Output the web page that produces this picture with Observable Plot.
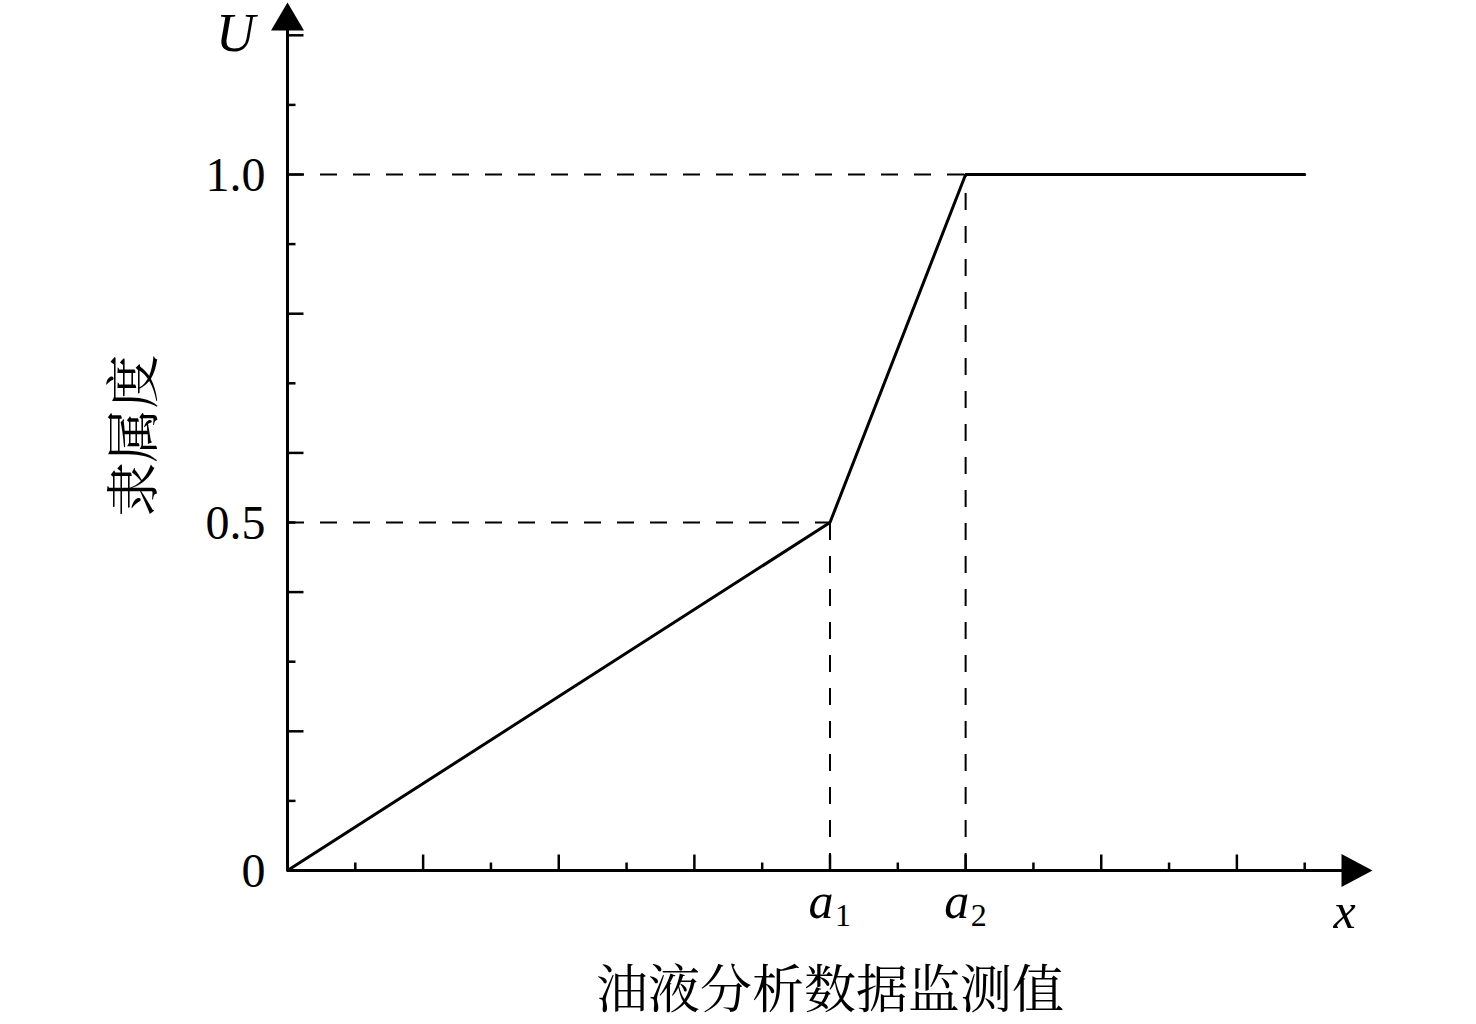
<!DOCTYPE html>
<html>
<head>
<meta charset="utf-8">
<script src="https://cdn.jsdelivr.net/npm/d3@7"></script>
<script src="https://cdn.jsdelivr.net/npm/@observablehq/plot@0.6"></script>
<style>
  html, body { margin: 0; padding: 0; background: #fff; }
  #chart svg { display: block; }
</style>
</head>
<body>
<div id="chart"></div>
<script>
// ---- data ----
const xValues = [0, 8, 10, 15];          // x in tick units
const uValues = [0, 0.5, 1.0, 1.0];      // membership degree
const breakX = [8, 10];                   // a1, a2
const breakU = [0.5, 1.0];
const breakBase = ["a", "a"];
const breakSub = ["1", "2"];
const yTickValues = [0, 0.5, 1.0];
const yTickLabels = ["0", "0.5", "1.0"];
const xMajorTicks = [2, 4, 6, 8, 10, 12, 14];
const xMinorTicks = [1, 3, 5, 7, 9, 11, 13, 15];
const yMajorTicks = [0.2, 0.4, 0.6, 0.8, 1.0, 1.2];
const yMinorTicks = [0.1, 0.3, 0.5, 0.7, 0.9, 1.1];
const xTitle = "油液分析数据监测值";
const yTitle = "隶属度";
const xAxisName = "x";
const yAxisName = "U";

const curve = xValues.map((x, i) => ({x, u: uValues[i]}));
const guides = breakX.map((x, i) => ({x, u: breakU[i], base: breakBase[i], sub: breakSub[i]}));
const yLabels = yTickValues.map((v, i) => ({v, label: yTickLabels[i]}));

const serif = "'Liberation Serif', 'Times New Roman', 'DejaVu Serif', serif";
const cjk = "'Noto Serif CJK SC', 'Noto Sans CJK SC', serif";

// custom symbols
const tickUp = {draw(ctx, size) { const r = Math.sqrt(size / Math.PI); ctx.moveTo(0, 0); ctx.lineTo(0, -r); }};
const tickRight = {draw(ctx, size) { const r = Math.sqrt(size / Math.PI); ctx.moveTo(0, 0); ctx.lineTo(r, 0); }};
const arrowUp = {draw(ctx, size) { const h = Math.sqrt(size / Math.PI); const w = h * 33 / 28;
  ctx.moveTo(0, 0); ctx.lineTo(-w / 2, h); ctx.lineTo(w / 2, h); ctx.closePath(); }};
const arrowRight = {draw(ctx, size) { const h = Math.sqrt(size / Math.PI); const w = h * 33 / 31;
  ctx.moveTo(0, 0); ctx.lineTo(-h, -w / 2); ctx.lineTo(-h, w / 2); ctx.closePath(); }};

const chart = Plot.plot({
  width: 1476,
  height: 1024,
  marginLeft: 287,
  marginRight: 104,
  marginTop: 0,
  marginBottom: 154,
  style: {background: "#fff", overflow: "visible"},
  x: {domain: [0, 16], axis: null},
  y: {domain: [0, 1.25], axis: null},
  marks: [
    // dashed guides
    Plot.ruleY(guides, {y: "u", x1: 0, x2: "x", stroke: "#000", strokeWidth: 2, strokeDasharray: "17,16"}),
    Plot.ruleX(guides, {x: "x", y1: 0, y2: "u", stroke: "#000", strokeWidth: 2, strokeDasharray: "17,16"}),
    // axes lines
    Plot.ruleY([0], {stroke: "#000", strokeWidth: 3, insetRight: 20}),
    Plot.ruleX([0], {stroke: "#000", strokeWidth: 3, insetTop: 20}),
    // ticks
    Plot.dot(xMajorTicks, {x: d => d, y: 0, symbol: tickUp, r: 16, fill: "none", stroke: "#000", strokeWidth: 2.5}),
    Plot.dot(xMinorTicks, {x: d => d, y: 0, symbol: tickUp, r: 8, fill: "none", stroke: "#000", strokeWidth: 2.5}),
    Plot.dot(yMajorTicks, {x: 0, y: d => d, symbol: tickRight, r: 16, fill: "none", stroke: "#000", strokeWidth: 2.5}),
    Plot.dot(yMinorTicks, {x: 0, y: d => d, symbol: tickRight, r: 8, fill: "none", stroke: "#000", strokeWidth: 2.5}),
    // arrows
    Plot.dot([0], {frameAnchor: "top-left", dy: 2, symbol: arrowUp, r: 28, fill: "#000", stroke: "none"}),
    Plot.dot([0], {frameAnchor: "bottom-right", symbol: arrowRight, r: 31, fill: "#000", stroke: "none"}),
    // membership line
    Plot.line(curve, {x: "x", y: "u", stroke: "#000", strokeWidth: 3, strokeLinejoin: "miter"}),
    // y tick labels
    Plot.text(yLabels, {x: 0, y: "v", text: "label", textAnchor: "end", lineAnchor: "middle", dx: -22, dy: 1,
      fontSize: 48, fontFamily: serif, fill: "#000"}),
    // a1, a2 labels
    Plot.text(guides, {x: "x", y: 0, text: "base", textAnchor: "middle", lineAnchor: "bottom", dx: -9, dy: 47,
      fontSize: 50, fontStyle: "italic", fontFamily: serif, fill: "#000"}),
    Plot.text(guides, {x: "x", y: 0, text: "sub", textAnchor: "middle", lineAnchor: "bottom", dx: 13, dy: 55,
      fontSize: 32, fontFamily: serif, fill: "#000"}),
    // axis names
    Plot.text([xAxisName], {frameAnchor: "bottom-right", text: d => d, textAnchor: "middle", lineAnchor: "bottom",
      dx: -28, dy: 57, fontSize: 50, fontStyle: "italic", fontFamily: serif, fill: "#000"}),
    Plot.text([yAxisName], {frameAnchor: "top-left", text: d => d, textAnchor: "middle", lineAnchor: "bottom",
      dx: -52, dy: 50, fontSize: 54, fontStyle: "italic", fontFamily: serif, fill: "#000"}),
    // titles
    Plot.text([xTitle], {frameAnchor: "bottom", text: d => d, textAnchor: "middle", lineAnchor: "middle",
      dy: 121, fontSize: 52, fontFamily: cjk, fill: "#000"}),
    Plot.text([yTitle], {frameAnchor: "left", text: d => d, textAnchor: "middle", lineAnchor: "middle",
      dx: -152, rotate: -90, fontSize: 54, fontFamily: cjk, fill: "#000"})
  ]
});
document.getElementById("chart").appendChild(chart);
</script>
</body>
</html>
